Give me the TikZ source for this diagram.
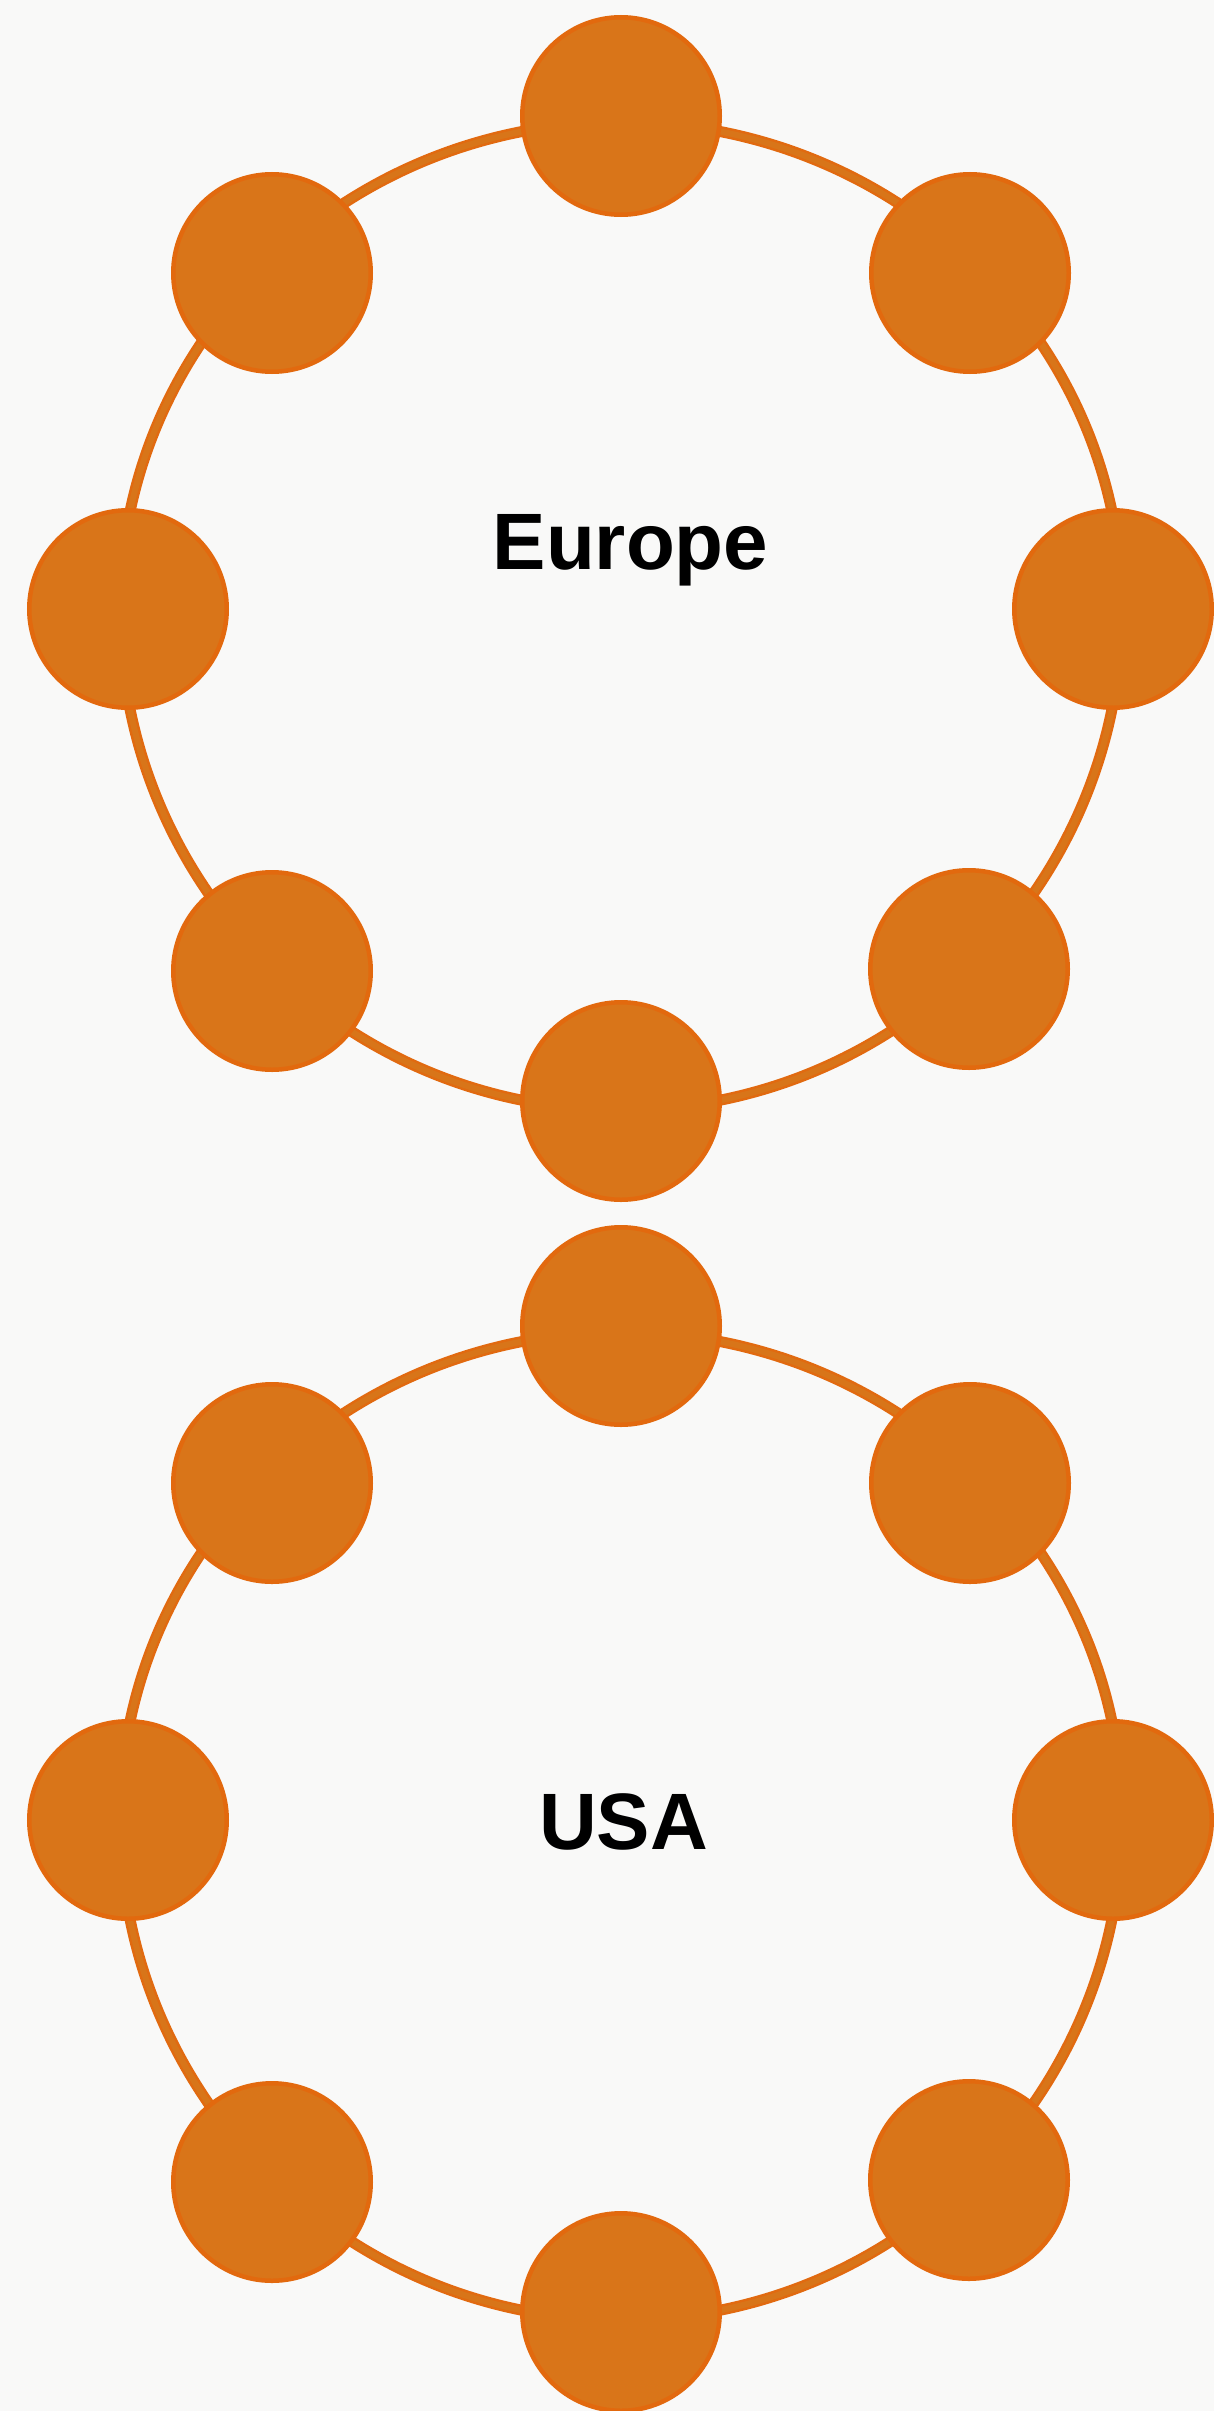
\documentclass[tikz,border=0pt]{standalone}
\usepackage{fontspec}
\setmainfont{Liberation Sans}
\definecolor{paper}{RGB}{249,249,248}
\definecolor{ringedge}{RGB}{225,106,16}
\definecolor{ringcore}{RGB}{216,117,25}
\definecolor{dotfill}{RGB}{217,117,25}
\definecolor{dotedge}{RGB}{226,105,14}
\tikzset{
  dot/.style={circle, fill=dotfill, draw=dotedge, line width=4.5pt,
              minimum size=197.5pt, inner sep=0pt},
  ringouter/.style={draw=ringedge, line width=11pt},
  ringinner/.style={draw=ringcore, line width=6pt},
  region/.style={font=\fontsize{80}{96}\selectfont\bfseries, inner sep=0pt, anchor=base}
}
% ring around a centre: flatter upper half, round lower half
\newcommand{\ringpath}[1]{
  ($(#1)+(501,0)$) arc[start angle=0, end angle=-180, x radius=501, y radius=487]
                   arc[start angle=-180, end angle=-360, x radius=501, y radius=501] -- cycle
}
\usetikzlibrary{calc}
\begin{document}
\begin{tikzpicture}[x=1pt,y=-1pt]
  % canvas
  \fill[paper] (0,0) rectangle (1214,2411);
  \useasboundingbox (0,0) rectangle (1214,2411);

  % Europe ring
  \coordinate (eu-c) at (621,609);
  \draw[ringouter] \ringpath{eu-c};
  \draw[ringinner] \ringpath{eu-c};
  \foreach \n/\px/\py in {n/621/116, s/621/1101, w/128/609, e/1113/609,
                          nw/272/273, ne/970/273, sw/272/971, se/969/969}
    \node[dot] (eu-\n) at (\px,\py) {};
  \node[region] (eu-label) at (630.5,569.3) {Europe};

  % USA ring
  \coordinate (us-c) at (621,1819);
  \draw[ringouter] \ringpath{us-c};
  \draw[ringinner] \ringpath{us-c};
  \foreach \n/\px/\py in {n/621/1326, s/621/2312, w/128/1820, e/1113/1820,
                          nw/272/1483, ne/970/1483, sw/272/2182, se/969/2180}
    \node[dot] (us-\n) at (\px,\py) {};
  \node[region] (us-label) at (623.5,1849.3) {USA};
\end{tikzpicture}
\end{document}
